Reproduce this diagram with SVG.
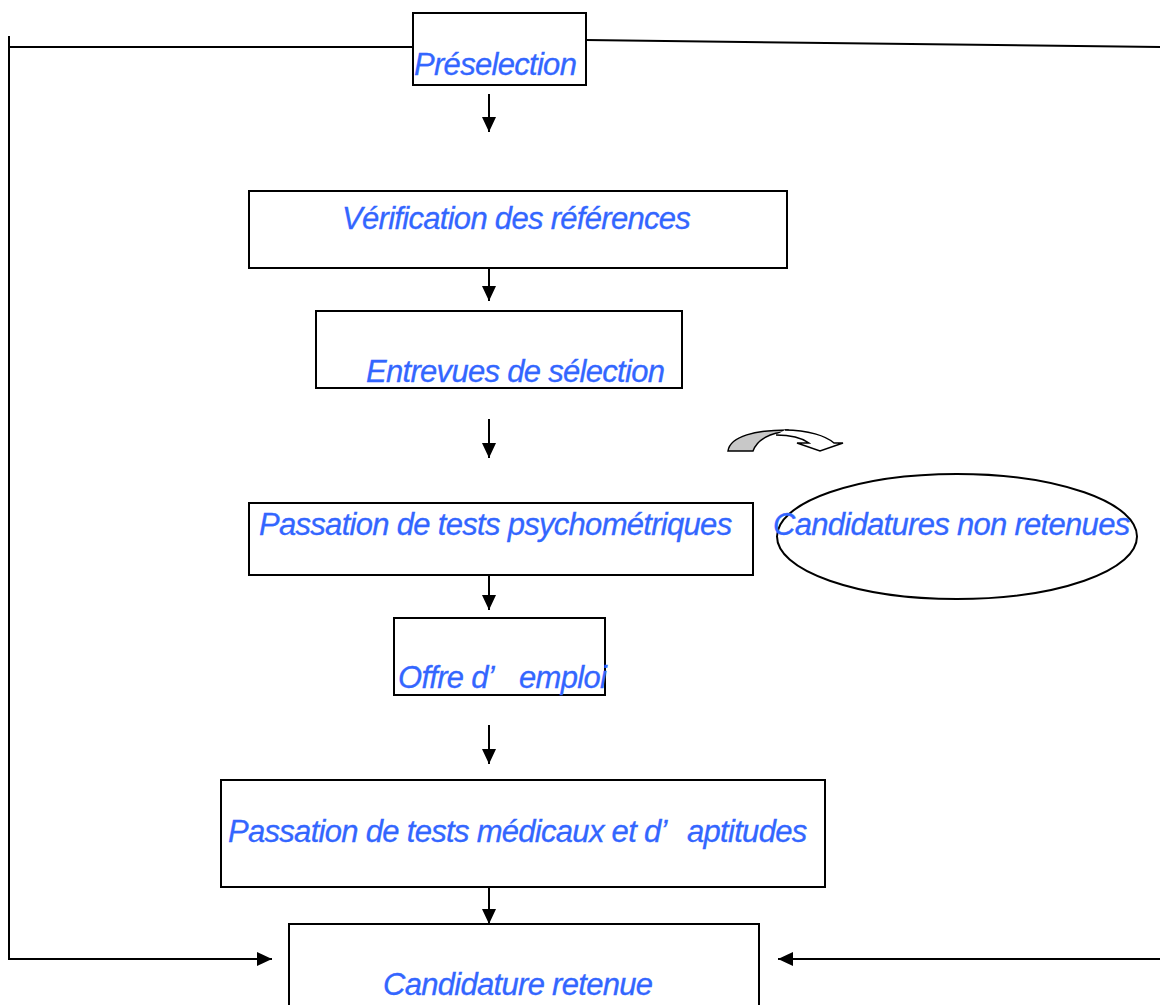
<svg xmlns="http://www.w3.org/2000/svg" width="1160" height="1005" viewBox="0 0 1160 1005">
<defs>
<marker id="ah" markerWidth="15" markerHeight="14" refX="15" refY="7" orient="auto" markerUnits="userSpaceOnUse">
<path d="M0,0 L15,7 L0,14 Z" fill="#000"/>
</marker>
<style>
.box{fill:#fff;stroke:#000;stroke-width:2}
.t{font-family:"Liberation Sans",Arial,sans-serif;font-style:italic;font-size:31px;letter-spacing:-0.7px;fill:#3366ff;stroke:#3366ff;stroke-width:0.3}
.c{fill:none;stroke:#000;stroke-width:2}
</style>
</defs>
<rect width="1160" height="1005" fill="#fff"/>
<g id="connectors">
<path class="c" d="M9,36 L9,959 L272,959" marker-end="url(#ah)"/>
<path class="c" d="M9,47 L413,47"/>
<path class="c" d="M586,40 L1160,47"/>
<path class="c" d="M1160,959 L778,959" marker-end="url(#ah)"/>
<path class="c" d="M489,94 L489,132" marker-end="url(#ah)"/>
<path class="c" d="M489,262 L489,301" marker-end="url(#ah)"/>
<path class="c" d="M489,419 L489,458" marker-end="url(#ah)"/>
<path class="c" d="M489,547 L489,610" marker-end="url(#ah)"/>
<path class="c" d="M489,725 L489,764" marker-end="url(#ah)"/>
<path class="c" d="M489,887 L489,924" marker-end="url(#ah)"/>
</g>
<g id="curved-arrow">
<path d="M728,451 C730,436 756,430 788,430 L788,432 C770,432 757,440 753,451 Z" fill="#c8c8c8" stroke="#000" stroke-width="1.5"/>
<path d="M785,430 C808,430 826,436 834,443 L843,443 L820,451 L797,443 L809,443 C802,438 793,435 776,435" fill="#fff" stroke="#000" stroke-width="1.5"/>
</g>
<g id="preselection">
<rect class="box" x="413" y="13" width="173" height="72"/>
<text class="t" x="414" y="75">Préselection</text>
</g>
<g id="verification">
<rect class="box" x="249" y="191" width="538" height="77"/>
<text class="t" x="342" y="229">Vérification des références</text>
</g>
<g id="entrevues">
<rect class="box" x="316" y="311" width="366" height="77"/>
<text class="t" x="366" y="382">Entrevues de sélection</text>
</g>
<g id="psychometriques">
<rect class="box" x="249" y="503" width="504" height="72"/>
<text class="t" x="259" y="535">Passation de tests psychométriques</text>
</g>
<g id="non-retenues">
<ellipse class="box" cx="957" cy="536.5" rx="180" ry="62.5"/>
<text class="t" x="773" y="535">Candidatures non retenues</text>
</g>
<g id="offre">
<rect class="box" x="394" y="618" width="211" height="77"/>
<text class="t" x="398" y="688">Offre d’<tspan x="519">emploi</tspan></text>
</g>
<g id="medicaux">
<rect class="box" x="221" y="780" width="604" height="107"/>
<text class="t" x="228" y="842">Passation de tests médicaux et d’<tspan x="687">aptitudes</tspan></text>
</g>
<g id="retenue">
<rect class="box" x="289" y="924" width="470" height="100"/>
<text class="t" x="383" y="995">Candidature retenue</text>
</g>
</svg>
